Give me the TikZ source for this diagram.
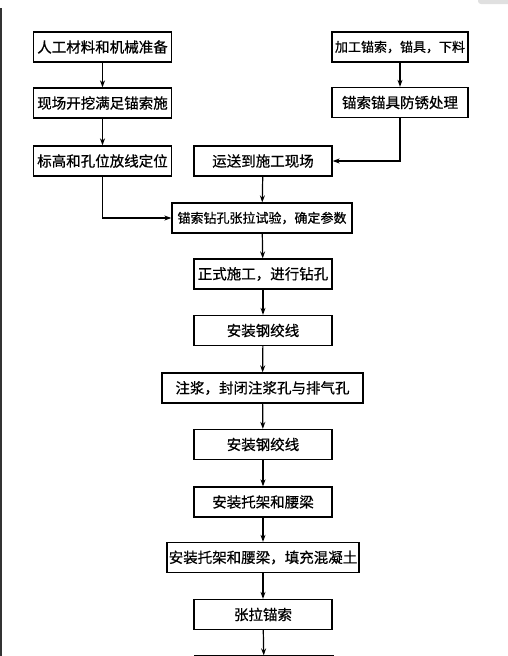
\documentclass[tikz,border=0pt]{standalone}
\usepackage{fontspec}
\usepackage{tikz}
\usetikzlibrary{arrows.meta}
\newfontfamily\cjk[FakeBold=0.6]{Noto Sans CJK SC}

\begin{document}
\begin{tikzpicture}[x=1pt,y=-1pt,
          box/.style={draw, line width=1.3pt, minimum width=138pt, minimum height=30pt, inner sep=0pt, align=center, font=\cjk\fontsize{14.5}{16}\selectfont},
          small/.style={font=\cjk\fontsize{13}{15}\selectfont},
          arrow/.style={-{Stealth[length=7pt,width=5pt]}, line width=1.2pt}
        ]
          \clip (0,0) rectangle (508,656);
          \fill[white] (0,0) rectangle (508,656);
          \draw[line width=2pt, black!80] (1,8) -- (1,656);
          \fill[black!12, rounded corners=3pt] (478,-4) rectangle (512,4);
          % left column
          \node[box] (prep) at (102.5,47) {人工材料和机械准备};
          \node[box] (dig) at (102.5,103) {现场开挖满足锚索施};
          \node[box] (mark) at (102.5,161) {标高和孔位放线定位};
          % right column
          \node[box,small,minimum width=136pt] (cut) at (400,47) {加工锚索，锚具，下料};
          \node[box,minimum width=136pt] (rust) at (400,102.5) {锚索锚具防锈处理};
          % main column
          \node[box] (ship) at (263,161) {运送到施工现场};
          \node[box,small,minimum width=180pt] (test) at (262,218) {锚索钻孔张拉试验，确定参数};
          \node[box] (drill) at (263,274) {正式施工，进行钻孔};
          \node[box] (wire) at (263,330.5) {安装钢绞线};
          \node[box,minimum width=201pt] (grout) at (262.5,388) {注浆，封闭注浆孔与排气孔};
          \node[box] (wire2) at (263,444.5) {安装钢绞线};
          \node[box] (beam) at (263,502) {安装托架和腰梁};
          \node[box,minimum width=192pt] (fill) at (263,557.5) {安装托架和腰梁，填充混凝土};
          \node[box] (tension) at (263,614.5) {张拉锚索};
          \node[box] (next) at (264,671) {};
          \draw[arrow] (prep) -- (dig);
          \draw[arrow] (dig) -- (mark);
          \draw[arrow] (cut) -- (rust);
          \draw[arrow] (rust.south) |- (ship.east);
          \draw[arrow] (mark.south) |- (test.west);
          \draw[arrow] (ship) -- (test);
          \draw[arrow] (test) -- (drill);
          \draw[arrow] (drill) -- (wire);
          \draw[arrow] (wire) -- (grout);
          \draw[arrow] (grout) -- (wire2);
          \draw[arrow] (wire2) -- (beam);
          \draw[arrow] (beam) -- (fill);
          \draw[arrow] (fill) -- (tension);
          \draw[arrow] (tension) -- (next);
        \end{tikzpicture}
\end{document}
